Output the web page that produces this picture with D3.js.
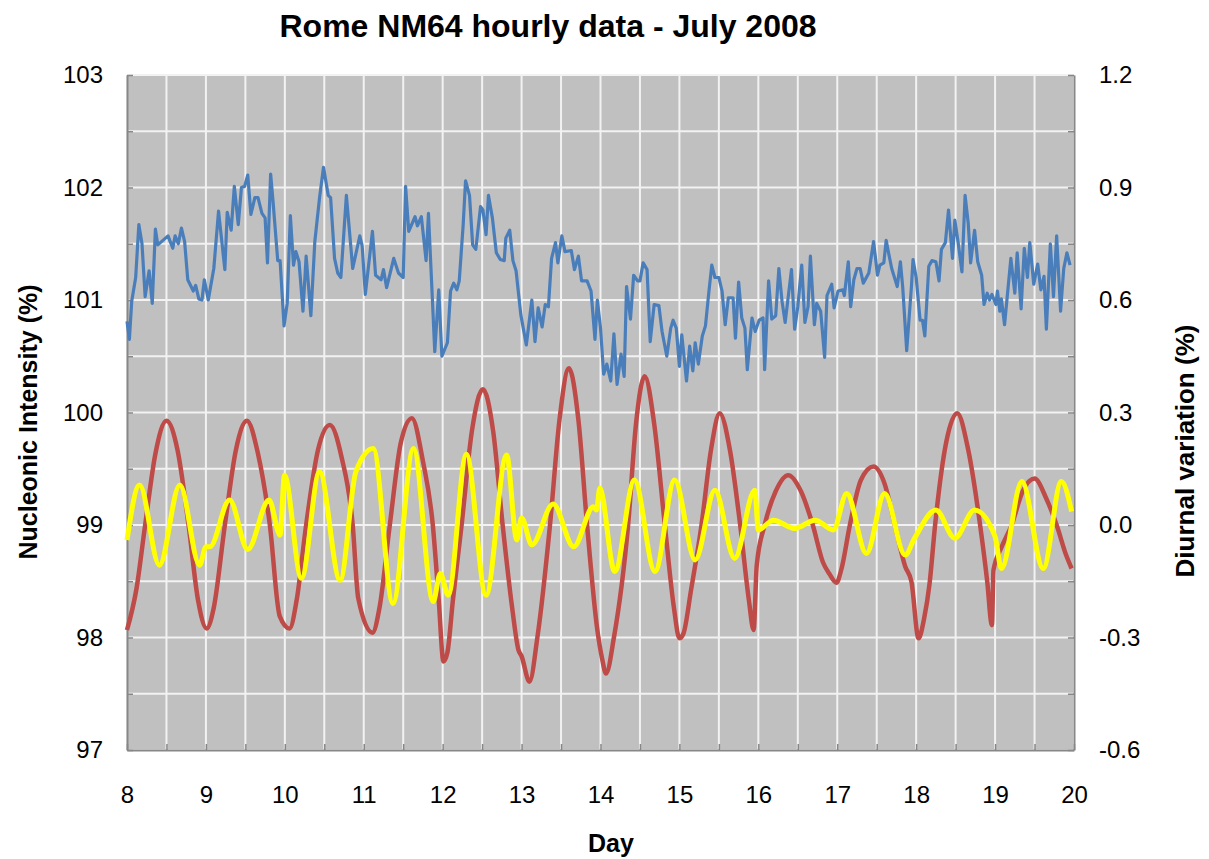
<!DOCTYPE html>
<html>
<head>
<meta charset="utf-8">
<script src="https://cdn.jsdelivr.net/npm/d3@7"></script>
<style>
  body { margin: 0; background: #fff; }
  text { font-family: "Liberation Sans", Arial, sans-serif; }
</style>
</head>
<body>
<svg id="chart" width="1209" height="859"></svg>
<script>
// tick labels
var dayTicks = [8, 9, 10, 11, 12, 13, 14, 15, 16, 17, 18, 19, 20];
var leftTicks = [97, 98, 99, 100, 101, 102, 103];
var rightTicks = [-0.6, -0.3, 0.0, 0.3, 0.6, 0.9, 1.2];

// nucleonic intensity (%), [day, value]
var intensity = [
[8.00,100.81],[8.03,100.65],[8.06,100.99],[8.11,101.2],[8.15,101.67],[8.19,101.5],[8.23,101.03],[8.28,101.26],[8.32,100.97],[8.36,101.63],[8.39,101.49],[8.52,101.57],[8.58,101.46],[8.61,101.57],[8.65,101.5],[8.69,101.64],[8.73,101.52],[8.77,101.18],[8.84,101.08],[8.87,101.13],[8.91,101.01],[8.95,101.0],[8.98,101.18],[9.03,101.0],[9.10,101.28],[9.16,101.79],[9.24,101.27],[9.27,101.78],[9.32,101.62],[9.36,102.01],[9.41,101.67],[9.45,102.0],[9.49,102.01],[9.53,102.11],[9.57,101.76],[9.62,101.91],[9.66,101.91],[9.71,101.77],[9.75,101.73],[9.78,101.33],[9.82,102.12],[9.85,101.88],[9.91,101.35],[9.94,101.35],[9.99,100.77],
[10.03,100.97],[10.07,101.75],[10.11,101.31],[10.14,101.43],[10.18,101.34],[10.23,100.9],[10.27,101.39],[10.33,100.86],[10.38,101.52],[10.44,101.91],[10.49,102.18],[10.55,101.93],[10.58,101.91],[10.63,101.37],[10.67,101.24],[10.71,101.2],[10.78,101.93],[10.86,101.28],[10.95,101.57],[10.98,101.48],[11.02,101.05],[11.11,101.61],[11.15,101.22],[11.22,101.18],[11.25,101.27],[11.29,101.11],[11.38,101.37],[11.44,101.24],[11.50,101.2],[11.53,102.01],[11.57,101.61],[11.65,101.74],[11.68,101.66],[11.73,101.74],[11.79,101.35],[11.82,101.77],[11.90,100.54],[11.95,101.09],[11.99,100.5],
[12.06,100.62],[12.10,101.08],[12.14,101.15],[12.18,101.09],[12.21,101.17],[12.26,101.67],[12.29,102.06],[12.34,101.93],[12.38,101.49],[12.42,101.45],[12.48,101.83],[12.51,101.8],[12.55,101.58],[12.58,101.93],[12.63,101.73],[12.68,101.42],[12.73,101.36],[12.78,101.35],[12.80,101.55],[12.85,101.62],[12.89,101.35],[12.93,101.26],[12.99,100.87],[13.06,100.6],[13.13,101.0],[13.17,100.63],[13.21,100.93],[13.26,100.76],[13.30,100.96],[13.34,100.94],[13.38,101.37],[13.43,101.51],[13.46,101.33],[13.51,101.57],[13.55,101.43],[13.63,101.44],[13.67,101.27],[13.72,101.39],[13.76,101.17],[13.83,101.17],[13.88,101.08],[13.93,100.65],[13.96,101.0],
[14.00,100.75],[14.04,100.34],[14.08,100.43],[14.13,100.28],[14.17,100.7],[14.21,100.25],[14.26,100.52],[14.30,100.32],[14.33,101.12],[14.38,100.83],[14.42,101.22],[14.47,101.17],[14.50,101.17],[14.54,101.33],[14.59,101.27],[14.63,100.63],[14.68,100.96],[14.74,100.95],[14.78,100.72],[14.84,100.5],[14.89,100.75],[14.92,100.82],[14.96,100.75],[15.00,100.41],[15.03,100.69],[15.09,100.28],[15.13,100.59],[15.17,100.37],[15.20,100.62],[15.24,100.43],[15.29,100.68],[15.33,100.77],[15.37,101.05],[15.41,101.31],[15.45,101.2],[15.50,101.2],[15.54,101.08],[15.58,100.78],[15.62,101.02],[15.68,101.02],[15.71,100.66],[15.75,101.16],[15.79,100.84],[15.83,100.75],[15.86,100.38],[15.92,100.84],[15.96,100.72],
[16.01,100.82],[16.06,100.84],[16.08,100.38],[16.13,101.17],[16.17,100.83],[16.22,100.86],[16.26,101.28],[16.30,100.99],[16.34,100.8],[16.42,101.27],[16.46,100.74],[16.50,100.94],[16.55,101.31],[16.59,100.8],[16.63,100.94],[16.66,101.39],[16.71,100.78],[16.74,100.97],[16.79,100.9],[16.84,100.49],[16.87,101.04],[16.93,101.14],[16.96,100.93],[17.01,101.08],[17.07,101.09],[17.09,101.04],[17.14,101.34],[17.17,100.94],[17.21,101.18],[17.25,101.28],[17.29,101.28],[17.33,101.15],[17.40,101.24],[17.46,101.52],[17.51,101.22],[17.54,101.31],[17.59,101.33],[17.62,101.53],[17.65,101.42],[17.69,101.28],[17.76,101.12],[17.80,101.34],[17.83,101.11],[17.88,100.55],[17.94,101.12],[17.96,101.36],
[18.00,101.2],[18.05,100.82],[18.08,100.82],[18.11,100.68],[18.16,101.3],[18.20,101.35],[18.25,101.34],[18.29,101.17],[18.32,101.45],[18.37,101.51],[18.41,101.8],[18.46,101.37],[18.49,101.71],[18.53,101.52],[18.58,101.25],[18.62,101.93],[18.66,101.68],[18.69,101.33],[18.74,101.62],[18.78,101.34],[18.83,101.22],[18.86,100.96],[18.90,101.06],[18.93,101.0],[18.96,101.05],[19.01,100.96],[19.03,101.08],[19.06,100.9],[19.08,101.01],[19.12,100.78],[19.20,101.37],[19.25,101.06],[19.28,101.42],[19.33,100.92],[19.37,101.46],[19.41,101.2],[19.44,101.51],[19.49,101.14],[19.54,101.32],[19.58,101.09],[19.62,101.21],[19.65,100.74],[19.70,101.5],[19.74,101.03],[19.78,101.57],[19.83,100.9],[19.87,101.28],[19.91,101.42],[19.95,101.31]
];

// diurnal variation (%), red curve, [day, value]
var redSeries = [
[8.00,-0.28],[8.12,-0.17],[8.23,0.0],[8.36,0.19],[8.50,0.278],[8.64,0.2],[8.78,0.0],[8.90,-0.2],[9.01,-0.276],[9.10,-0.22],[9.24,0.0],[9.38,0.2],[9.52,0.278],[9.66,0.19],[9.81,0.0],[9.935,-0.243],[10.06,-0.276],[10.15,-0.2],[10.27,0.0],[10.42,0.2],[10.57,0.267],[10.72,0.18],[10.86,0.0],[10.93,-0.195],[11.11,-0.287],[11.20,-0.22],[11.33,0.0],[11.47,0.22],[11.61,0.285],[11.75,0.17],[11.875,0.0],[11.95,-0.2],[12.01,-0.364],[12.06,-0.34],[12.13,-0.2],[12.24,0.0],[12.37,0.25],[12.51,0.362],[12.64,0.25],[12.76,0.0],[12.88,-0.22],[12.96,-0.333],[13.0,-0.35],[13.10,-0.418],[13.20,-0.3],[13.36,0.0],[13.48,0.28],[13.60,0.418],[13.72,0.28],[13.83,0.0],[13.96,-0.28],[14.02,-0.356],[14.07,-0.396],[14.17,-0.3],[14.35,0.0],[14.45,0.27],[14.56,0.397],[14.68,0.27],[14.815,0.0],[14.93,-0.22],[15.0,-0.302],[15.05,-0.29],[15.15,-0.17],[15.28,0.0],[15.40,0.2],[15.51,0.298],[15.64,0.2],[15.77,0.0],[15.88,-0.2],[15.94,-0.28],[15.98,-0.107],[16.08,0.0],[16.22,0.09],[16.38,0.133],[16.54,0.09],[16.69,0.0],[16.82,-0.1],[16.90,-0.13],[16.99,-0.154],[17.05,-0.12],[17.16,0.0],[17.30,0.12],[17.46,0.156],[17.60,0.11],[17.73,0.0],[17.86,-0.11],[17.94,-0.151],[18.03,-0.302],[18.10,-0.25],[18.17,-0.156],[18.24,0.0],[18.38,0.22],[18.52,0.298],[18.66,0.2],[18.81,0.0],[18.90,-0.15],[18.96,-0.267],[18.98,-0.12],[19.08,-0.06],[19.21,0.0],[19.35,0.09],[19.50,0.124],[19.65,0.07],[19.78,0.0],[19.90,-0.08],[19.97,-0.116]
];

// diurnal variation (%), yellow curve, [day, value]
var yellowSeries = [
[8.0,-0.04],[8.16,0.107],[8.41,-0.107],[8.67,0.107],[8.92,-0.107],[9.0,-0.058],[9.05,-0.058],[9.3,0.067],[9.53,-0.065],[9.8,0.067],[9.94,-0.027],[9.995,0.133],[10.21,-0.142],[10.44,0.142],[10.7,-0.147],[10.9,0.142],[11.12,0.204],[11.37,-0.209],[11.63,0.204],[11.88,-0.204],[11.97,-0.129],[12.07,-0.187],[12.3,0.189],[12.55,-0.187],[12.81,0.187],[12.94,-0.04],[13.0,0.019],[13.13,-0.053],[13.4,0.056],[13.66,-0.058],[13.91,0.049],[13.95,0.04],[13.99,0.098],[14.18,-0.124],[14.43,0.12],[14.69,-0.124],[14.94,0.12],[15.2,-0.093],[15.45,0.093],[15.7,-0.089],[15.955,0.093],[16.0,-0.013],[16.19,0.013],[16.46,-0.009],[16.72,0.013],[16.95,-0.013],[17.12,0.084],[17.37,-0.076],[17.6,0.084],[17.86,-0.08],[17.98,-0.035],[18.25,0.04],[18.49,-0.035],[18.74,0.04],[19.0,-0.031],[19.08,-0.116],[19.34,0.116],[19.61,-0.116],[19.84,0.116],[19.97,0.036]
];

var svg = d3.select("#chart");
var plotLeft = 127, plotTop = 75, width = 947, height = 675;

var x = d3.scaleLinear().domain([8, 20]).range([0, width]);
var y = d3.scaleLinear().domain([97, 103]).range([height, 0]);
var y2 = d3.scaleLinear().domain([-0.6, 1.2]).range([height, 0]);

var g = svg.append("g").attr("transform", "translate(" + plotLeft + "," + plotTop + ")");

g.append("rect").attr("width", width).attr("height", height).attr("fill", "#c0c0c0");

var gridDays = d3.range(8, 20.001, 0.5);
var gridVals = d3.range(97, 103.001, 0.5);

g.append("g").selectAll("line").data(gridDays).enter().append("line")
  .attr("x1", d => x(d)).attr("x2", d => x(d))
  .attr("y1", 0).attr("y2", height)
  .attr("stroke", "#f2f2f2").attr("stroke-width", 2);
g.append("g").selectAll("line").data(gridVals).enter().append("line")
  .attr("x1", 0).attr("x2", width)
  .attr("y1", d => y(d)).attr("y2", d => y(d))
  .attr("stroke", "#f2f2f2").attr("stroke-width", 2);

// axes, ticks inside
var fmtLeft = d => leftTicks.indexOf(d) >= 0 ? d : "";
var fmtRight = d => rightTicks.some(t => Math.abs(t - d) < 1e-6) ? d.toFixed(1) : "";
var fmtX = d => dayTicks.indexOf(d) >= 0 ? d : "";

var ax = g.append("g").attr("transform", "translate(0," + height + ")")
  .call(d3.axisBottom(x).tickValues(gridDays).tickFormat(fmtX).tickSize(-6).tickSizeOuter(0).tickPadding(36));
var ayl = g.append("g")
  .call(d3.axisLeft(y).tickValues(gridVals).tickFormat(fmtLeft).tickSize(-6).tickSizeOuter(0).tickPadding(24));
var ayr = g.append("g").attr("transform", "translate(" + width + ",0)")
  .call(d3.axisRight(y2).tickValues(d3.range(-0.6, 1.2001, 0.15)).tickFormat(fmtRight).tickSize(-6).tickSizeOuter(0).tickPadding(25));

[ax, ayl, ayr].forEach(function(a) {
  a.select(".domain").attr("stroke", "#878787").attr("stroke-width", 2);
  a.selectAll(".tick line").attr("stroke", "#878787").attr("stroke-width", 1.5);
  a.selectAll("text").attr("font-size", 24).attr("fill", "#000")
    .attr("font-family", "'Liberation Sans', Arial, sans-serif");
});

// series
var line1 = d3.line().x(d => x(d[0])).y(d => y(d[1]));
var line2 = d3.line().x(d => x(d[0])).y(d => y2(d[1])).curve(d3.curveMonotoneX);

g.append("path").datum(intensity).attr("d", line1)
  .attr("fill", "none").attr("stroke", "#4a7ebb").attr("stroke-width", 3.2)
  .attr("stroke-linejoin", "round");
g.append("path").datum(redSeries).attr("d", line2)
  .attr("fill", "none").attr("stroke", "#be4b48").attr("stroke-width", 4.5)
  .attr("stroke-linejoin", "round");
g.append("path").datum(yellowSeries).attr("d", line2)
  .attr("fill", "none").attr("stroke", "#ffff00").attr("stroke-width", 5)
  .attr("stroke-linejoin", "round");

// titles
svg.append("text").attr("x", 548).attr("y", 37).attr("text-anchor", "middle")
  .attr("font-size", 32).attr("font-weight", "bold").text("Rome NM64 hourly data - July 2008");
svg.append("text").attr("x", 611).attr("y", 852).attr("text-anchor", "middle")
  .attr("font-size", 25).attr("font-weight", "bold").text("Day");
svg.append("text").attr("transform", "translate(37,422) rotate(-90)").attr("text-anchor", "middle")
  .attr("font-size", 25).attr("font-weight", "bold").text("Nucleonic Intensity (%)");
svg.append("text").attr("transform", "translate(1194,451) rotate(-90)").attr("text-anchor", "middle")
  .attr("font-size", 26).attr("font-weight", "bold").text("Diurnal variation (%)");
</script>
</body>
</html>
